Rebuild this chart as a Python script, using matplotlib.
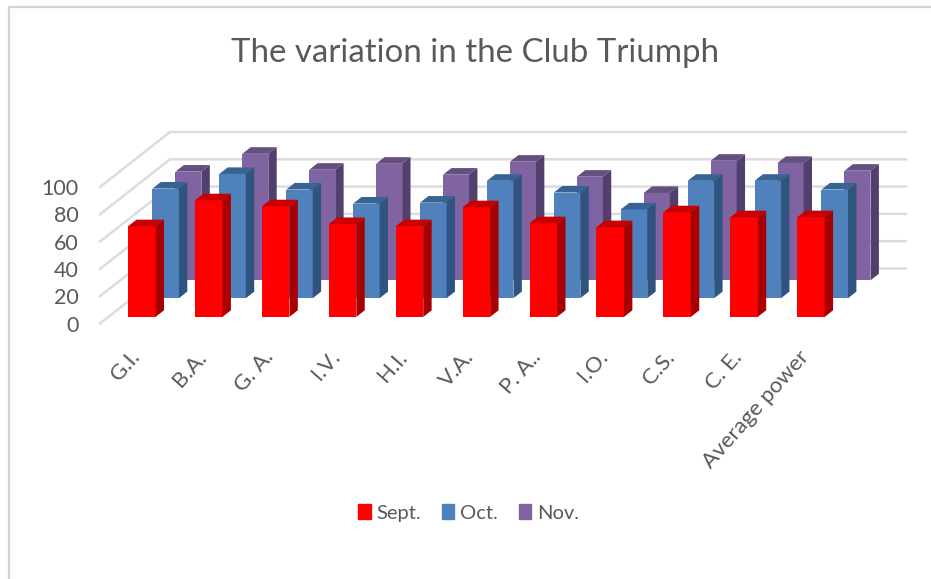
import matplotlib
matplotlib.use("Agg")
import matplotlib.pyplot as plt
from matplotlib.patches import Patch
from matplotlib.lines import Line2D
from matplotlib.transforms import ScaledTranslation

categories = ["G.I.", "B.A.", "G. A.", "I.V.", "H.I.", "V.A.", "P. A..", "I.O.", "C.S.", "C. E.", "Average power"]
sept = [66.4, 85.4, 81, 68, 66.4, 80.3, 68.6, 65.7, 76.6, 73, 73]
oct_ = [80.3, 91, 79.6, 69.3, 70, 86, 77.4, 65, 86, 86, 79.6]
nov = [79.6, 92.7, 81, 85.4, 77.4, 86.9, 75.9, 64, 87.6, 86, 80.3]
yticks = [0, 20, 40, 60, 80, 100]

W, H = 931, 579
plt.rcParams["font.family"] = ["Lato", "DejaVu Sans"]
fig = plt.figure(figsize=(W / 100, H / 100), dpi=100)
# front plane of the 3D box: x 100..836 px, value 0 at y=323.5, 100 at y=187
ax = fig.add_axes([100 / W, 1 - 323.5 / H, 736 / W, 136.5 / H])
ax.set_xlim(-0.5, 10.5)
ax.set_ylim(0, 100)
for s in ax.spines.values():
    s.set_visible(False)
ax.patch.set_visible(False)

PXX = 736 / 11
PXY = 1.365
DX = 70 / PXX
DY = 55 / PXY
THICK = 0.12


def proj(x, v, d):
    return x + d * DX, v + d * DY


# walls
GRID = "#dcdcdc"
for t in yticks:
    x0, y0 = proj(-0.5, t, 0)
    x1, y1 = proj(-0.5, t, 1)
    x2, y2 = proj(10.5, t, 1)
    ax.plot([x0, x1, x2], [y0, y1, y2], color=GRID, lw=1.8, clip_on=False, zorder=1,
            solid_joinstyle="miter")

series = [
    (nov, 0.785, 26 / PXX, "#8064a2", "#644f80", "#533f6d", "Nov.", 4),
    (oct_, 0.46, 26.5 / PXX, "#4f81bd", "#386494", "#2f5480", "Oct.", 6),
    (sept, 0.12, 27.5 / PXX, "#ff0000", "#c80000", "#a80000", "Sept.", 8),
]

for vals, depth, w, front, top, side, name, z in series:
    for i, v in enumerate(vals):
        xl, yb = proj(i - w / 2, 0, depth)
        xr = xl + w
        ax.bar(xl, v, width=w, bottom=yb, align="edge", color=front, lw=0, clip_on=False, zorder=z)
        ddx, ddy = THICK * DX, THICK * DY
        yt = yb + v
        ax.fill([xl, xr, xr + ddx, xl + ddx], [yt, yt, yt + ddy, yt + ddy], color=top, lw=0,
                clip_on=False, zorder=z)
        ax.fill([xr, xr + ddx, xr + ddx, xr], [yb, yb + ddy, yt + ddy, yt], color=side, lw=0,
                clip_on=False, zorder=z)

ax.set_yticks(yticks)
ax.set_yticklabels([str(t) for t in yticks], fontsize=15.5, color="#595959")
ax.tick_params(axis="y", length=0, pad=15.5)
ax.set_xticks(range(len(categories)))
ax.set_xticklabels(categories, rotation=48.5, ha="right", rotation_mode="anchor",
                   fontsize=16, color="#595959")
ax.tick_params(axis="x", length=0, pad=17)
shift = ScaledTranslation(-5 / 100, 0, fig.dpi_scale_trans)
for lab in ax.get_xticklabels():
    lab.set_transform(lab.get_transform() + shift)

fig.text(475 / W, 1 - 53 / H, "The variation in the Club Triumph", ha="center", va="center",
         fontsize=23.8, color="#595959")

handles = [Patch(color="#ff0000", label="Sept."), Patch(color="#4f81bd", label="Oct."),
           Patch(color="#8064a2", label="Nov.")]
fig.legend(handles=handles, loc="center", bbox_to_anchor=(469 / W, 1 - 513 / H), ncol=3, frameon=False,
           fontsize=14.5, labelcolor="#595959", handlelength=0.6, handleheight=0.75,
           handletextpad=0.3, columnspacing=1.05)

# chart frame
fig.add_artist(Line2D([9 / W, 9 / W, 1], [0, 1 - 7 / H, 1 - 7 / H], color="#d4d4d4", lw=1.6))

fig.savefig("out.png", dpi=100)
